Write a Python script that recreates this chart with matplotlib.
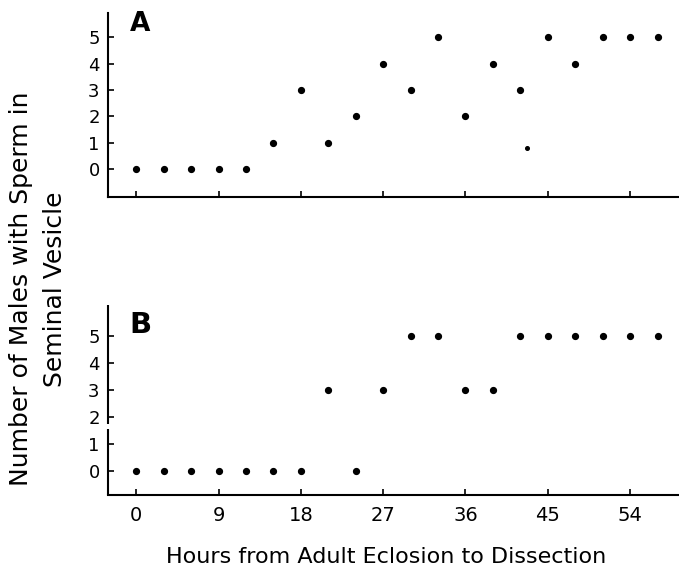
import matplotlib
matplotlib.use("Agg")
import matplotlib.pyplot as plt

# Sampling times (hours after adult eclosion)
hours = [0, 3, 6, 9, 12, 15, 18, 21, 24, 27, 30, 33, 36, 39, 42, 45, 48, 51, 54, 57]

# Number of males (out of 5) with sperm in the seminal vesicle
males_a = [0, 0, 0, 0, 0, 1, 3, 1, 2, 4, 3, 5, 2, 4, 3, 5, 4, 5, 5, 5]
males_b = [0, 0, 0, 0, 0, 0, 0, 3, 0, 3, 5, 5, 3, 3, 5, 5, 5, 5, 5, 5]

# Stray small mark in panel A
extra_a_x = [42.7]
extra_a_y = [0.8]

x_ticks = [0, 9, 18, 27, 36, 45, 54]
y_ticks = [0, 1, 2, 3, 4, 5]

plt.rcParams['font.family'] = ['DejaVu Sans']

fig = plt.figure(figsize=(6.79, 5.70), dpi=100)
ax_a = fig.add_axes([0.159, 0.6544, 0.841, 0.3228])
ax_b = fig.add_axes([0.159, 0.1316, 0.841, 0.3333])

for ax in (ax_a, ax_b):
    for side in ('top', 'right'):
        ax.spines[side].set_visible(False)
    for side in ('left', 'bottom'):
        ax.spines[side].set_linewidth(1.5)
    ax.set_xlim(-3.1, 59.35)
    ax.set_xticks(x_ticks)
    ax.set_yticks(y_ticks)
    ax.tick_params(direction='in', length=4, width=1.2, labelsize=13, pad=6)

ax_a.set_ylim(-1.065, 5.93)
ax_b.set_ylim(-0.9, 6.16)

ax_a.plot(hours, males_a, 'o', color='black', markersize=4.2)
ax_a.plot(extra_a_x, extra_a_y, 'o', color='black', markersize=2.6)
ax_b.plot(hours, males_b, 'o', color='black', markersize=4.2)

ax_a.tick_params(axis='x', labelbottom=False)
ax_b.tick_params(axis='x', pad=8, labelsize=14)

# Left axis of panel B is drawn in two pieces with a small gap between 1 and 2
ax_b.spines['left'].set_visible(False)
ytr = ax_b.get_yaxis_transform()
ax_b.plot([0, 0], [-0.9, 1.55], color='black', lw=1.5, transform=ytr, clip_on=False,
          solid_capstyle='butt')
ax_b.plot([0, 0], [1.72, 6.16], color='black', lw=1.5, transform=ytr, clip_on=False,
          solid_capstyle='butt')

ax_a.text(0.038, 0.94, 'A', transform=ax_a.transAxes, fontsize=19, fontweight='bold',
          ha='left', va='center')
ax_b.text(0.038, 0.895, 'B', transform=ax_b.transAxes, fontsize=21, fontweight='bold',
          ha='left', va='center')

fig.text(0.568, 0.022, 'Hours from Adult Eclosion to Dissection', fontsize=16,
         ha='center', va='center')
fig.text(0.031, 0.493, 'Number of Males with Sperm in', fontsize=18,
         rotation=90, ha='center', va='center')
fig.text(0.081, 0.493, 'Seminal Vesicle', fontsize=18,
         rotation=90, ha='center', va='center')

fig.savefig('out.png', dpi=100)
